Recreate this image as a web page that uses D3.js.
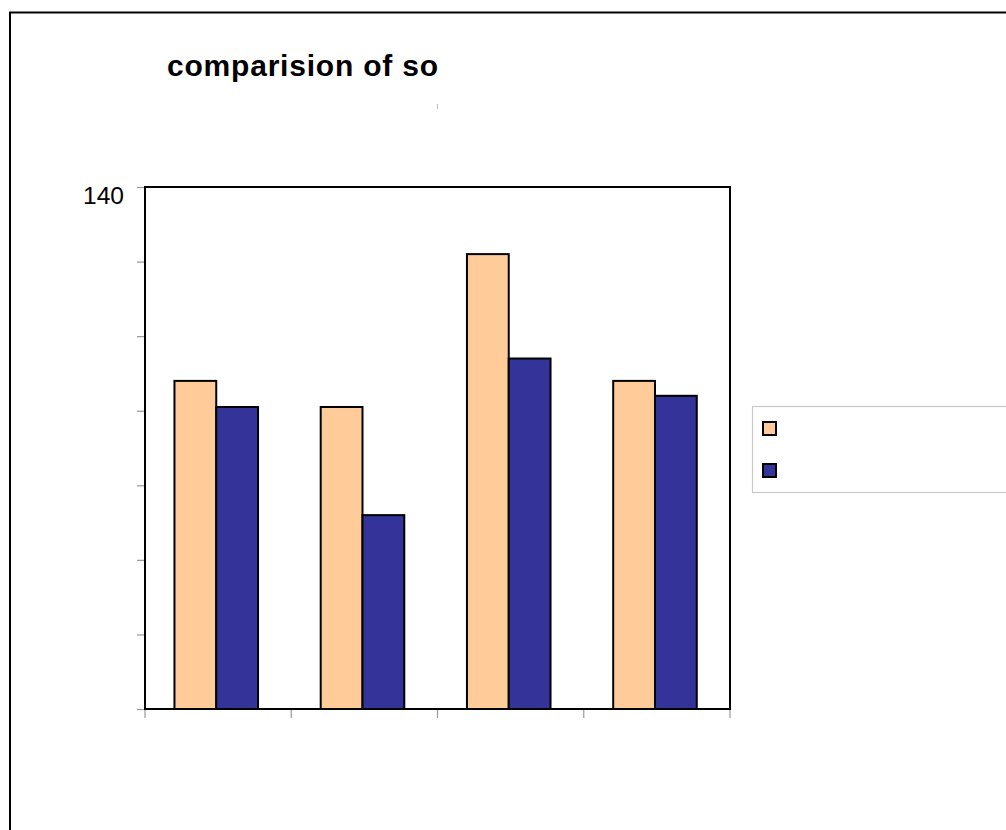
<!DOCTYPE html>
<html>
<head>
<meta charset="utf-8">
<script src="https://cdn.jsdelivr.net/npm/d3@7"></script>
<style>
  html, body { margin: 0; padding: 0; background: #fff; }
  svg { display: block; font-family: "Liberation Sans", Arial, sans-serif; }
</style>
</head>
<body>
<svg id="chart" width="1006" height="830"></svg>
<script>
// Chart data
const title = "comparision of so";
const categories = ["1", "2", "3", "4"];
const seriesNames = ["", ""];
const seriesA = [88, 81, 122, 88];
const seriesB = [81, 52, 94, 84];
const yTicks = [0, 20, 40, 60, 80, 100, 120, 140];
const yTickLabels = ["", "", "", "", "", "", "", "140"];
const colors = ["#FFCC99", "#333399"];

const svg = d3.select("#chart");

// Outer chart frame (only its top and left edges fall inside the page)
svg.append("rect")
  .attr("x", 10).attr("y", 12.5)
  .attr("width", 1100).attr("height", 900)
  .attr("fill", "none").attr("stroke", "#000").attr("stroke-width", 2);

// Title
svg.append("text")
  .attr("x", 167).attr("y", 76)
  .attr("font-size", 30).attr("font-weight", "bold")
  .attr("textLength", 271).attr("lengthAdjust", "spacing")
  .text(title);

// small stray mark under the title
svg.append("line")
  .attr("x1", 437.5).attr("x2", 437.5).attr("y1", 104).attr("y2", 109)
  .attr("stroke", "#bbb").attr("stroke-width", 1);

const plot = { left: 145, top: 187, right: 730, bottom: 709 };

const x = d3.scaleBand().domain(categories).range([plot.left, plot.right]);
const xInner = d3.scaleBand().domain([0, 1]).range([0, x.bandwidth()])
  .paddingOuter(0.75).align(0.47);
const y = d3.scaleLinear().domain([0, 140]).range([plot.bottom, plot.top]);

// Y axis ticks
const yAxis = svg.append("g")
  .attr("transform", `translate(${plot.left},0)`)
  .call(d3.axisLeft(y).tickValues(yTicks).tickSize(8).tickPadding(13)
    .tickFormat((d, i) => yTickLabels[i]));
yAxis.select(".domain").remove();
yAxis.selectAll(".tick line").attr("stroke", "#999").attr("stroke-width", 1.2);
yAxis.selectAll(".tick text")
  .attr("font-size", 23).attr("fill", "#000")
  .attr("font-family", "Liberation Sans, Arial, sans-serif")
  .attr("textLength", 41).attr("lengthAdjust", "spacingAndGlyphs")
  .attr("dy", "0.7em");

// X axis ticks at category boundaries
const xBounds = categories.map(c => x(c)).concat([plot.right]);
svg.append("g").selectAll("line").data(xBounds).join("line")
  .attr("x1", d => d).attr("x2", d => d)
  .attr("y1", plot.bottom).attr("y2", plot.bottom + 9)
  .attr("stroke", "#999").attr("stroke-width", 1.2);

// Bars
const rows = categories.map((c, i) => ({ c, vals: [seriesA[i], seriesB[i]] }));
const groups = svg.append("g").selectAll("g").data(rows).join("g")
  .attr("transform", d => `translate(${x(d.c)},0)`);
groups.selectAll("rect").data(d => d.vals.map((v, k) => ({ v, k }))).join("rect")
  .attr("x", d => xInner(d.k))
  .attr("y", d => y(d.v))
  .attr("width", xInner.bandwidth())
  .attr("height", d => y(0) - y(d.v))
  .attr("fill", d => colors[d.k])
  .attr("stroke", "#000").attr("stroke-width", 2);

// Plot area frame
svg.append("rect")
  .attr("x", plot.left).attr("y", plot.top)
  .attr("width", plot.right - plot.left).attr("height", plot.bottom - plot.top)
  .attr("fill", "none").attr("stroke", "#000").attr("stroke-width", 2);

// Legend
const legend = svg.append("g");
legend.append("rect")
  .attr("x", 752.5).attr("y", 406.5).attr("width", 400).attr("height", 86)
  .attr("fill", "#fff").attr("stroke", "#c8c8c8").attr("stroke-width", 1.2);
const items = legend.selectAll("g").data(seriesNames).join("g")
  .attr("transform", (d, i) => `translate(763,${422 + i * 42})`);
items.append("rect")
  .attr("width", 13).attr("height", 13)
  .attr("fill", (d, i) => colors[i])
  .attr("stroke", "#000").attr("stroke-width", 2);
items.append("text")
  .attr("x", 22).attr("y", 11).attr("font-size", 16)
  .text(d => d);
</script>
</body>
</html>
